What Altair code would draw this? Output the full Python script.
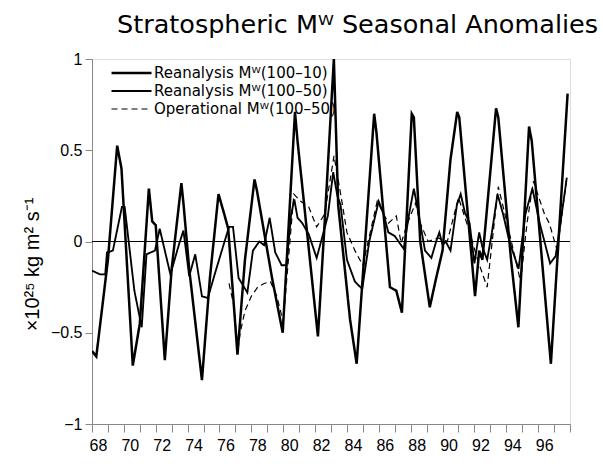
import altair as alt
import pandas as pd

# ---- data (two-digit years, x10^25 kg m^2 s^-1) ----
years_r10 = [68.0, 68.27, 69.0, 69.58, 69.85, 70.56, 71.0, 71.57, 71.78, 72.0,
             72.57, 73.0, 73.61, 73.75, 74.1, 74.9, 75.4, 75.94, 76.3, 76.55,
             77.13, 77.6, 78.2, 78.35, 79.3, 79.97, 80.74, 80.9, 82.18, 82.6,
             83.18, 83.45, 84.2, 84.61, 85.71, 85.85, 86.7, 87.1, 87.45, 88.07,
             88.2, 88.6, 89.2, 89.6, 90.0, 90.5, 90.92, 91.05, 92.04, 92.3,
             92.5, 93.36, 93.5, 94.3, 94.76, 95.43, 95.6, 96.8, 97.85]
vals_r10 = [-0.6, -0.63, -0.1, 0.525, 0.4, -0.68, -0.45, 0.29, 0.11, 0.09,
            -0.65, -0.15, 0.32, 0.2, -0.15, -0.76, -0.2, 0.26, 0.15, 0.07,
            -0.62, -0.1, 0.34, 0.28, -0.2, -0.5, 0.71, 0.55, -0.52, 0.1,
            1.0, 0.2, -0.43, -0.67, 0.70, 0.6, -0.25, -0.27, -0.39, 0.70,
            0.68, 0.0, -0.36, -0.2, -0.05, 0.45, 0.71, 0.68, -0.30, -0.05,
            -0.1, 0.73, 0.68, -0.1, -0.47, 0.63, 0.55, -0.67, 0.81]

years_r50 = [68.0, 68.5, 68.83, 68.94, 69.31, 69.88, 70.05, 70.66, 71.12, 71.42,
             71.95, 72.25, 72.92, 73.48, 73.74, 74.1, 74.48, 74.9, 75.27, 75.7,
             76.32, 76.6, 76.85, 77.2, 77.75, 78.1, 78.5, 78.8, 79.15, 79.5,
             79.9, 80.2, 80.5, 80.7, 80.9, 81.2, 81.6, 82.1, 82.5, 82.8,
             83.14, 83.4, 83.6, 84.0, 84.5, 84.96, 85.4, 85.99, 86.3, 86.6,
             87.0, 87.56, 87.9, 88.2, 88.5, 88.9, 89.3, 89.6, 89.8, 90.0,
             90.2, 90.5, 90.9, 91.14, 91.4, 91.7, 92.0, 92.3, 92.5, 92.8,
             93.1, 93.45, 93.8, 94.2, 94.77, 95.2, 95.64, 96.1, 96.75, 97.1,
             97.4, 97.8]
vals_r50 = [-0.16, -0.18, -0.18, -0.06, -0.05, 0.19, 0.19, -0.27, -0.47, -0.07,
            -0.05, 0.07, -0.18, -0.01, 0.06, -0.19, -0.07, -0.3, -0.31, -0.18,
            0.0, 0.08, 0.08, -0.2, -0.28, -0.05, 0.0, -0.02, 0.13, -0.06,
            -0.13, -0.13, 0.15, 0.23, 0.13, 0.1, 0.04, -0.09, 0.04, 0.14,
            0.38, 0.25, 0.2, -0.1, -0.22, -0.26, 0.0, 0.22, 0.15, 0.05,
            0.03, -0.04, 0.15, 0.29, 0.15, -0.05, -0.09, 0.0, 0.05, -0.02,
            0.0, -0.05, 0.2, 0.26, 0.16, 0.1, -0.12, 0.05, -0.03, -0.1,
            0.05, 0.26, 0.15, 0.0, -0.15, 0.15, 0.29, 0.1, -0.12, -0.08,
            0.1, 0.35]

years_op = [76.6, 76.9, 77.15, 77.3, 77.6, 78.0, 78.4, 78.8, 79.2, 79.6,
            80.0, 80.67, 81.1, 81.6, 82.1, 82.6, 83.19, 83.7, 84.0, 84.5,
            85.0, 85.9, 86.6, 87.1, 87.4, 87.8, 88.3, 88.6, 89.1, 89.7,
            90.3, 91.0, 91.6, 92.2, 92.8, 93.5, 94.0, 94.9, 95.3, 95.7,
            96.4, 96.7, 97.2, 97.8]
vals_op = [-0.23, -0.35, -0.6, -0.5, -0.38, -0.3, -0.25, -0.23, -0.22, -0.3,
           -0.44, 0.26, 0.22, 0.19, 0.08, 0.15, 0.47, 0.21, 0.05, -0.05,
           -0.13, 0.22, 0.1, 0.14, -0.01, 0.1, 0.21, 0.1, 0.0, 0.02,
           0.0, 0.24, 0.08, -0.1, -0.25, 0.3, 0.12, -0.22, 0.1, 0.33,
           0.15, 0.1, -0.05, 0.35]

series_names = ["Reanalysis Mᵂ(100–10)", "Reanalysis Mᵂ(100–50)", "Operational Mᵂ(100–50)"]
x_ticks = list(range(68, 99))
y_ticks = [-1, -0.5, 0, 0.5, 1]
zero_level = [0.0]

frames = []
for name, yrs, vals in zip(series_names, [years_r10, years_r50, years_op],
                           [vals_r10, vals_r50, vals_op]):
    frames.append(pd.DataFrame({"year": yrs, "value": vals, "series": name}))
df = pd.concat(frames, ignore_index=True)

FONT = "DejaVu Sans"

leg = alt.Legend(title=None, orient="none", legendX=18, legendY=7,
                 symbolType="stroke", symbolSize=1600, clipHeight=14,
                 rowPadding=3, labelFontSize=15, labelFont=FONT, labelLimit=400,
                 labelColor="black", padding=0, labelOffset=1,
                 symbolStrokeColor="black")

x_enc = alt.X("year:Q",
              scale=alt.Scale(domain=[68, 98], nice=False, zero=False),
              axis=alt.Axis(values=x_ticks,
                            labelExpr="(datum.value % 2 == 0 && datum.value < 97) ? datum.label : ''",
                            title=None, tickSize=8, labelOffset=6, labelPadding=5,
                            labelFontSize=16, grid=False, labelFlush=False))
y_enc = alt.Y("value:Q",
              scale=alt.Scale(domain=[-1, 1], nice=False, zero=False),
              axis=alt.Axis(values=y_ticks, format="~g", tickSize=7, labelPadding=3,
                            labelFontSize=16, grid=False,
                            title="×10²⁵ kg m² s⁻¹", titleFontSize=20,
                            titleFontWeight="normal", titleX=-60, titleY=205,
                            titleAngle=270, titleAlign="center", titleBaseline="middle"))

lines = alt.Chart(df).mark_line(clip=True).encode(
    x=x_enc,
    y=y_enc,
    color=alt.Color("series:N", scale=alt.Scale(domain=series_names,
                                                range=["black", "black", "black"]), legend=leg),
    strokeDash=alt.StrokeDash("series:N", scale=alt.Scale(domain=series_names,
                                                          range=[[1, 0], [1, 0], [6, 4]]), legend=leg),
    strokeWidth=alt.StrokeWidth("series:N", scale=alt.Scale(domain=series_names,
                                                            range=[2.5, 1.2, 1.4]), legend=leg),
)

zero = alt.Chart(pd.DataFrame({"value": zero_level})).mark_rule(
    color="black", strokeWidth=1.2).encode(y=alt.Y("value:Q"))

chart = alt.layer(lines, zero).properties(
    width=478, height=365,
    title=alt.Title("Stratospheric Mᵂ Seasonal Anomalies", anchor="start", frame="group",
                    dx=25, offset=-7, baseline="alphabetic", fontSize=25.5, font=FONT,
                    fontWeight="normal", color="black"),
    padding={"left": 92, "top": 59, "right": 33, "bottom": 40},
    autosize=alt.AutoSizeParams(type="none"),
).configure_view(stroke="black", strokeWidth=1.5).configure_axis(
    domainColor="black", domainWidth=1.5, tickColor="black", tickWidth=1.3,
    labelColor="black", titleColor="black", labelFont=FONT, titleFont=FONT,
).configure(background="white")

chart.save("out.html", embed_options={"renderer": "svg", "actions": False})
